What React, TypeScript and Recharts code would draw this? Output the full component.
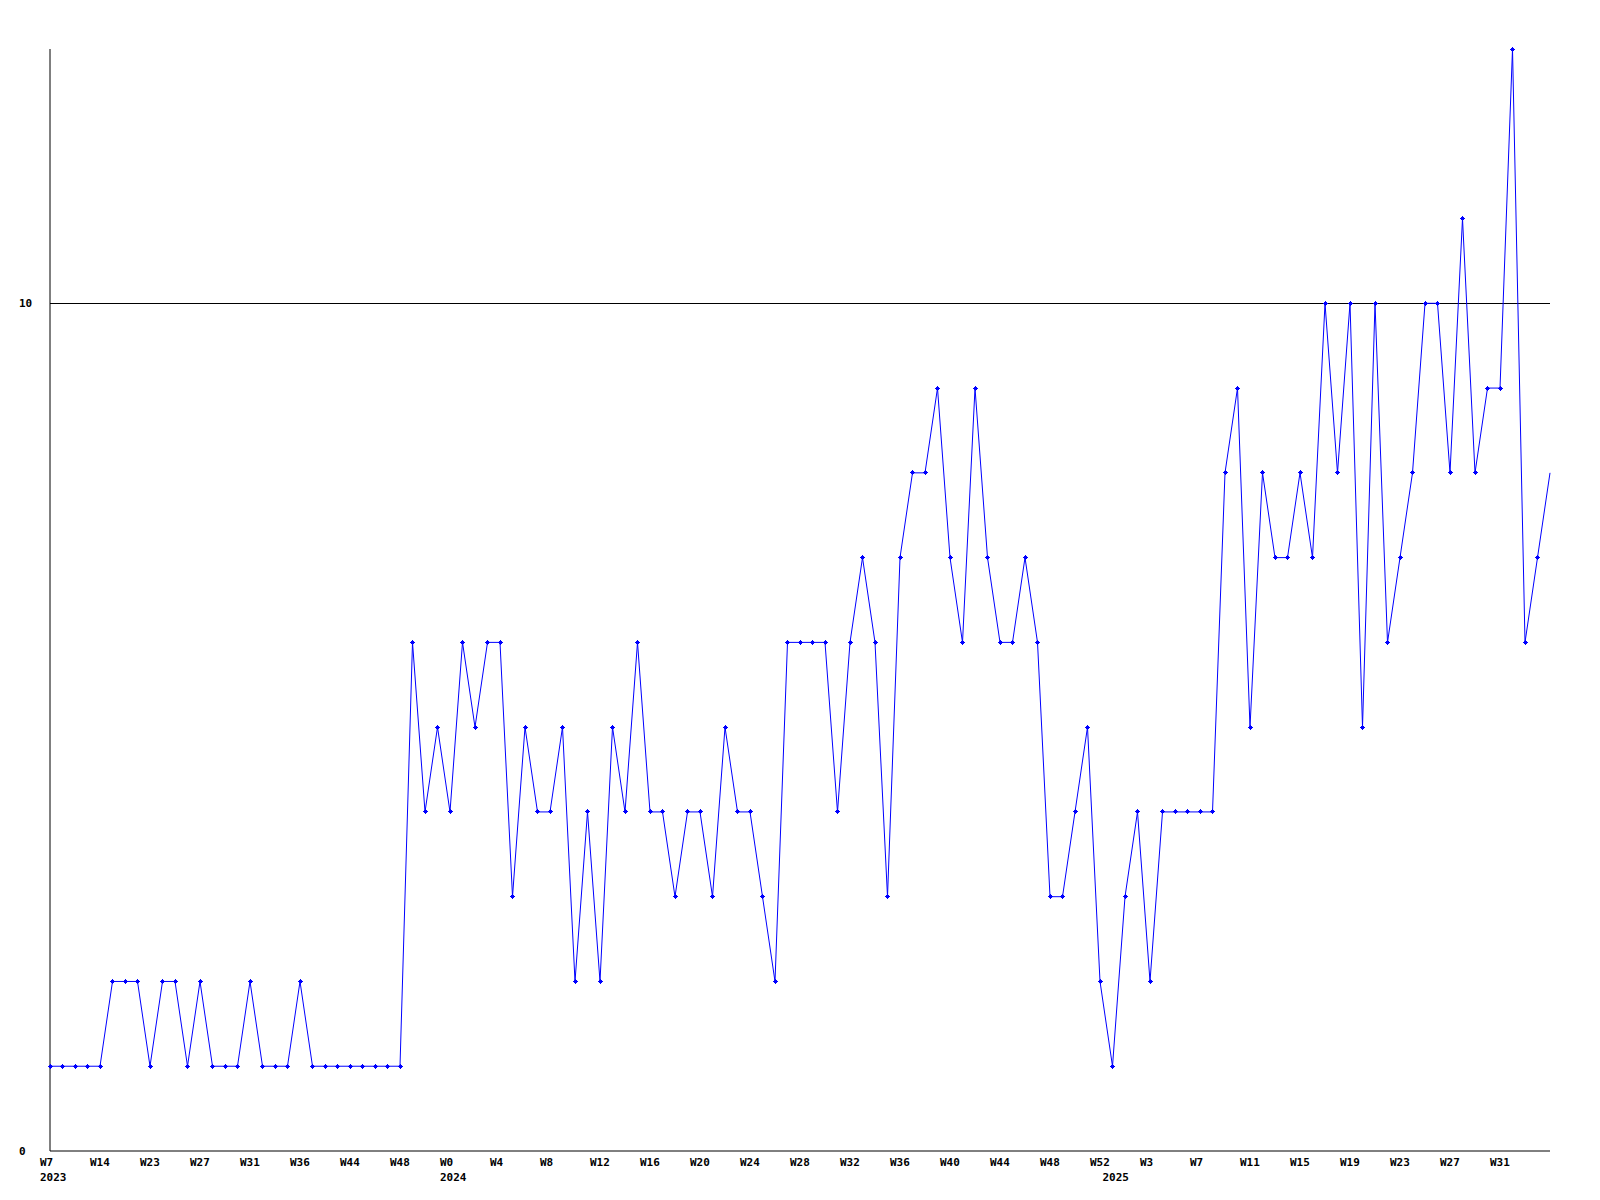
import React from 'react';
import { LineChart, Line, XAxis, YAxis, ReferenceLine } from 'recharts';

// week labels per point, grouped by year
const weeks2023 = [
  'W7', 'W9', 'W11', 'W13', 'W14', 'W16', 'W18', 'W21', 'W23', 'W24', 'W25', 'W26',
  'W27', 'W28', 'W29', 'W30', 'W31', 'W32', 'W33', 'W35', 'W36', 'W38', 'W40', 'W42',
  'W44', 'W45', 'W46', 'W47', 'W48', 'W49', 'W50', 'W51',
];
const weeks2024 = [
  'W0', 'W1', 'W2', 'W3', 'W4', 'W5', 'W6', 'W7', 'W8', 'W9', 'W10', 'W11', 'W12',
  'W13', 'W14', 'W15', 'W16', 'W17', 'W18', 'W19', 'W20', 'W21', 'W22', 'W23', 'W24',
  'W25', 'W26', 'W27', 'W28', 'W29', 'W30', 'W31', 'W32', 'W33', 'W34', 'W35', 'W36',
  'W37', 'W38', 'W39', 'W40', 'W41', 'W42', 'W43', 'W44', 'W45', 'W46', 'W47', 'W48',
  'W49', 'W50', 'W51', 'W52',
];
const weeks2025 = [
  'W0', 'W1', 'W2', 'W3', 'W4', 'W5', 'W6', 'W7', 'W8', 'W9', 'W10', 'W11', 'W12',
  'W13', 'W14', 'W15', 'W16', 'W17', 'W18', 'W19', 'W20', 'W21', 'W22', 'W23', 'W24',
  'W25', 'W26', 'W27', 'W28', 'W29', 'W30', 'W31', 'W32', 'W33', 'W34', 'W35',
];
const years = ['2023', '2024', '2025'];

const counts2023 = [
  1, 1, 1, 1, 1, 2, 2, 2, 1, 2, 2, 1, 2, 1, 1, 1, 2, 1, 1, 1, 2, 1, 1, 1, 1, 1, 1, 1, 1,
  6, 4, 5,
];
const counts2024 = [
  4, 6, 5, 6, 6, 3, 5, 4, 4, 5, 2, 4, 2, 5, 4, 6, 4, 4, 3, 4, 4, 3, 5, 4, 4, 3, 2,
  6, 6, 6, 6, 4, 6, 7, 6, 3, 7, 8, 8, 9, 7, 6, 9, 7, 6, 6, 7, 6, 3, 3, 4, 5, 2,
];
const counts2025 = [
  1, 3, 4, 2, 4, 4, 4, 4, 4, 8, 9, 5, 8, 7, 7, 8, 7, 10, 8, 10, 5, 10, 6, 7, 8, 10, 10,
  8, 11, 8, 9, 9, 13, 6, 7, 8,
];

const yTicks = [0, 10];

const groups = [
  { year: years[0], weeks: weeks2023, counts: counts2023 },
  { year: years[1], weeks: weeks2024, counts: counts2024 },
  { year: years[2], weeks: weeks2025, counts: counts2025 },
];

const data = groups.flatMap((g) =>
  g.weeks.map((w, i) => ({
    key: `${g.year}-${w}`,
    week: w,
    year: i === 0 ? g.year : '',
    value: g.counts[i],
  }))
);

const FONT = '"DejaVu Sans Mono", "Liberation Mono", monospace';
const BLUE = '#0000ff';

const WeekTick = (props: any) => {
  const { x, y, index } = props;
  const d = data[index];
  if (!d) return null;
  // every 4th week is labelled; the last point's label would run off the edge
  const showWeek = index % 4 === 0 && index < data.length - 1;
  return (
    <g>
      {showWeek && (
        <text x={x - 10} y={y + 12} textAnchor="start" dominantBaseline="middle"
          fontFamily={FONT} fontSize={11} fontWeight="bold" fill="#000">
          {d.week}
        </text>
      )}
      {d.year && (
        <text x={x - 10} y={y + 27} textAnchor="start" dominantBaseline="middle"
          fontFamily={FONT} fontSize={11} fontWeight="bold" fill="#000">
          {d.year}
        </text>
      )}
    </g>
  );
};

const ValueTick = (props: any) => {
  const { x, y, payload } = props;
  return (
    <text x={x - 31} y={y + 1} textAnchor="start" dominantBaseline="middle"
      fontFamily={FONT} fontSize={11} fontWeight="bold" fill="#000">
      {payload.value}
    </text>
  );
};

const PlusDot = (props: any) => {
  const { cx, cy, index } = props;
  if (cx == null || cy == null || index === data.length - 1) return <g key={`d${index}`} />;
  return (
    <path key={`d${index}`} fill={BLUE} shapeRendering="crispEdges"
      d={`M${cx - 2.5},${cy - 0.5}h5v1h-5z M${cx - 0.5},${cy - 2.5}h1v5h-1z M${cx - 1.5},${cy - 1.5}h3v3h-3z`} />
  );
};

export default function App() {
  return (
    <div style={{ position: 'absolute', left: 0, top: 0, width: 1600, height: 1200, background: '#fff' }}>
      <LineChart width={1600} height={1200} data={data}
        margin={{ top: 49, right: 50, bottom: 9, left: 20 }}>
        <XAxis dataKey="key" interval={0} tick={<WeekTick />} tickLine={false} tickSize={0} tickMargin={0}
          height={40} axisLine={{ stroke: '#000', strokeWidth: 1 }} />
        <YAxis domain={[0, 13]} ticks={yTicks} tick={<ValueTick />} tickLine={false} tickSize={0} tickMargin={0}
          width={30} axisLine={{ stroke: '#000', strokeWidth: 1 }} />
        <ReferenceLine y={10} stroke="#000" strokeWidth={1} shapeRendering="crispEdges" />
        <Line type="linear" dataKey="value" stroke={BLUE} strokeWidth={1}
          dot={<PlusDot />} activeDot={false} isAnimationActive={false} />
      </LineChart>
    </div>
  );
}
